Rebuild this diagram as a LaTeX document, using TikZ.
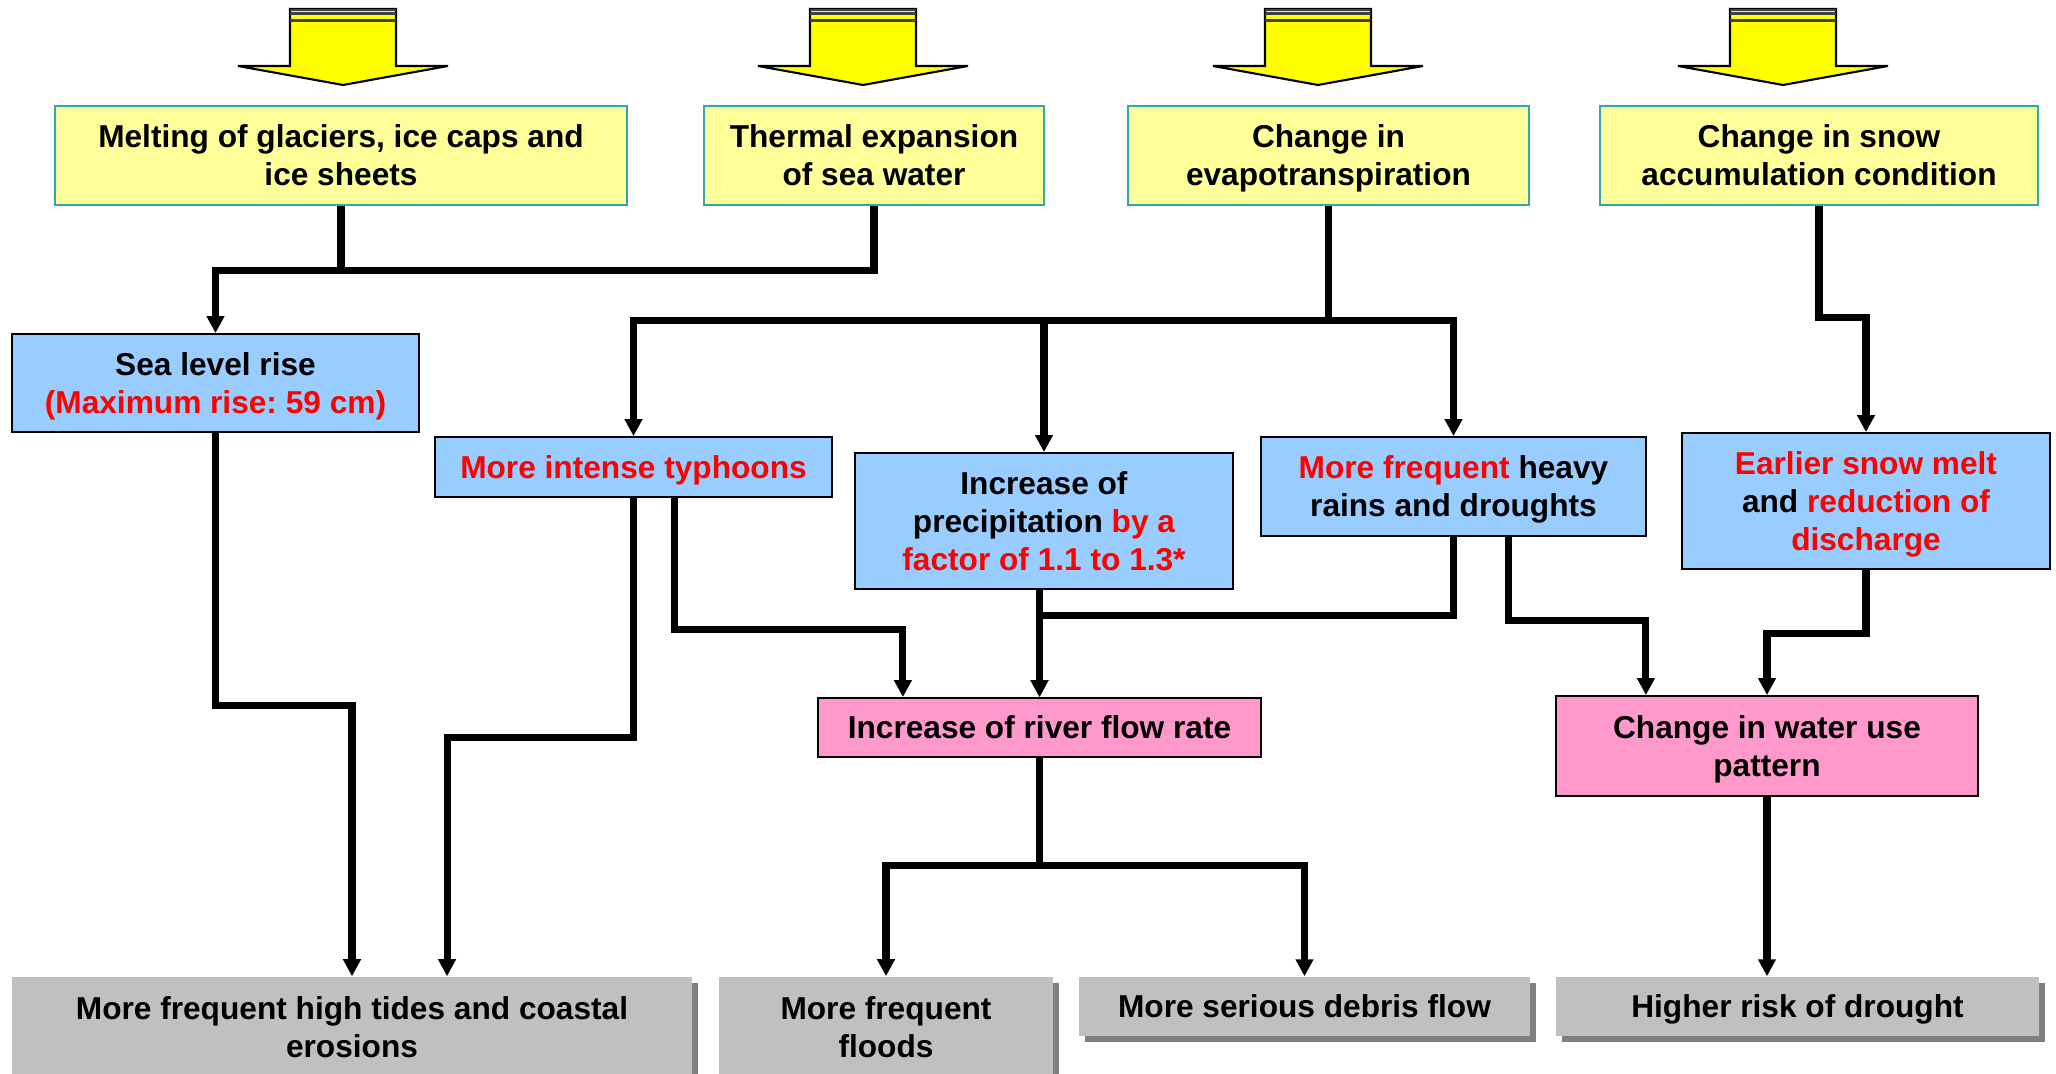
\documentclass[tikz,border=0pt]{standalone}
\usepackage{fontspec}
\setmainfont{Liberation Sans}
\frenchspacing
\usetikzlibrary{arrows.meta, shadows}
\definecolor{boxyellow}{HTML}{FFFF99}
\definecolor{boxteal}{HTML}{30A8A8}
\definecolor{boxblue}{HTML}{99CCFF}
\definecolor{boxpink}{HTML}{FF99CC}
\definecolor{boxgray}{HTML}{C0C0C0}
\definecolor{shadowgray}{HTML}{808080}
\definecolor{arrowyellow}{HTML}{FFFF00}

\begin{document}
\begin{tikzpicture}[
        x=0.01cm, y=-0.01cm,
        >={Triangle[width=0.17cm,length=0.17cm]},
        every node/.style={
            font=\fontsize{9}{10.8}\selectfont\bfseries,
            align=center,
            inner sep=2pt,
            text depth=0pt
        },
        cause/.style={fill=boxyellow, draw=boxteal, line width=0.6pt, minimum height=0.99cm},
        impact/.style={fill=boxblue, draw=black, line width=0.5pt},
        change/.style={fill=boxpink, draw=black, line width=0.5pt},
        result/.style={fill=boxgray, drop shadow={shadow xshift=0.06cm, shadow yshift=-0.06cm, fill=shadowgray, opacity=1}},
        link/.style={line width=2pt},
        linkarrow/.style={link, ->}
    ]
        \useasboundingbox (0,0) rectangle (2056,1074);
        \clip (0,0) rectangle (2056,1074);

        % Big input arrows
        \foreach \ax in {343,863,1318,1783} {
            \filldraw[fill=arrowyellow, draw=black, line width=0.6pt]
                (\ax-53,9) -- (\ax+53,9) -- (\ax+53,66) -- (\ax+105,66) -- (\ax,85)
                -- (\ax-105,66) -- (\ax-53,66) -- cycle;
            \fill[black!75] (\ax-53,9) rectangle (\ax+53,11);
            \fill[black!75] (\ax-53,12.5) rectangle (\ax+53,15);
            \fill[black!75] (\ax-53,19.5) rectangle (\ax+53,22);
        }

        % Causes
        \node[cause, minimum width=5.72cm] (melt) at (341,155.5) {Melting of glaciers, ice caps and\\ice sheets};
        \node[cause, minimum width=3.40cm] (therm) at (874,155.5) {Thermal expansion\\of sea water};
        \node[cause, minimum width=4.01cm] (evap) at (1328.5,155.5) {Change in\\evapotranspiration};
        \node[cause, minimum width=4.38cm] (snow) at (1819,155.5) {Change in snow\\accumulation condition};

        % Direct impacts
        \node[impact, minimum width=4.07cm, minimum height=0.98cm] (sea) at (215.5,383) {Sea level rise\\\textcolor{red}{(Maximum rise: 59 cm)}};
        \node[impact, minimum width=3.97cm, minimum height=0.60cm] (typh) at (633.5,467) {\textcolor{red}{More intense typhoons}};
        \node[impact, minimum width=3.78cm, minimum height=1.36cm] (prec) at (1044,521) {Increase of\\precipitation \textcolor{red}{by a}\\\textcolor{red}{factor of 1.1 to 1.3*}};
        \node[impact, minimum width=3.85cm, minimum height=0.99cm] (rain) at (1453.5,486.5) {\textcolor{red}{More frequent} heavy\\rains and droughts};
        \node[impact, minimum width=3.68cm, minimum height=1.36cm] (snowmelt) at (1866,501) {\textcolor{red}{Earlier snow melt}\\and \textcolor{red}{reduction of}\\\textcolor{red}{discharge}};

        % Changes
        \node[change, minimum width=4.43cm, minimum height=0.59cm] (river) at (1039.5,727.5) {Increase of river flow rate};
        \node[change, minimum width=4.22cm, minimum height=1.00cm] (water) at (1767,746) {Change in water use\\pattern};

        % Results
        \node[result, minimum width=6.80cm, minimum height=1.00cm] (tides) at (352,1027) {More frequent high tides and coastal\\erosions};
        \node[result, minimum width=3.34cm, minimum height=1.00cm] (floods) at (886,1027) {More frequent\\floods};
        \node[result, minimum width=4.51cm, minimum height=0.59cm] (debris) at (1304.5,1006.5) {More serious debris flow};
        \node[result, minimum width=4.83cm, minimum height=0.59cm] (drought) at (1797.5,1006.5) {Higher risk of drought};

        % Causes to impacts
        \draw[linkarrow] (melt.south) -- ++(0,64) -| (sea.north);
        \draw[link] (therm.south) |- ([yshift=-0.64cm]melt.south);
        \draw[linkarrow] (evap.south) -- ++(0,114) -| (typh.north);
        \draw[linkarrow] (evap.south) -- ++(0,114) -| (prec.north);
        \draw[linkarrow] (evap.south) -- ++(0,114) -| (rain.north);
        \draw[linkarrow] (snow.south) -- ++(0,111) -| (snowmelt.north);

        % Impacts to changes and results
        \draw[linkarrow] (sea.south) -- ++(0,273) -| (tides.north);
        \draw[linkarrow] (typh.south) -- ++(0,240) -| ([xshift=0.95cm]tides.north);
        \draw[linkarrow] ([xshift=0.41cm]typh.south) -- ++(0,132) -| ([xshift=-1.365cm]river.north);
        \draw[linkarrow] (prec.south -| river.north) -- (river.north);
        \draw[linkarrow] (rain.south) -- ++(0,79) -| (river.north);
        \draw[linkarrow] ([xshift=0.545cm]rain.south) -- ++(0,84) -| ([xshift=-1.21cm]water.north);
        \draw[linkarrow] (snowmelt.south) -- ++(0,64) -| (water.north);

        % Changes to results
        \draw[linkarrow] (river.south) -- ++(0,108) -| (floods.north);
        \draw[linkarrow] (river.south) -- ++(0,108) -| (debris.north);
        \draw[linkarrow] (water.south) -- (water.south |- drought.north);
    \end{tikzpicture}
\end{document}
